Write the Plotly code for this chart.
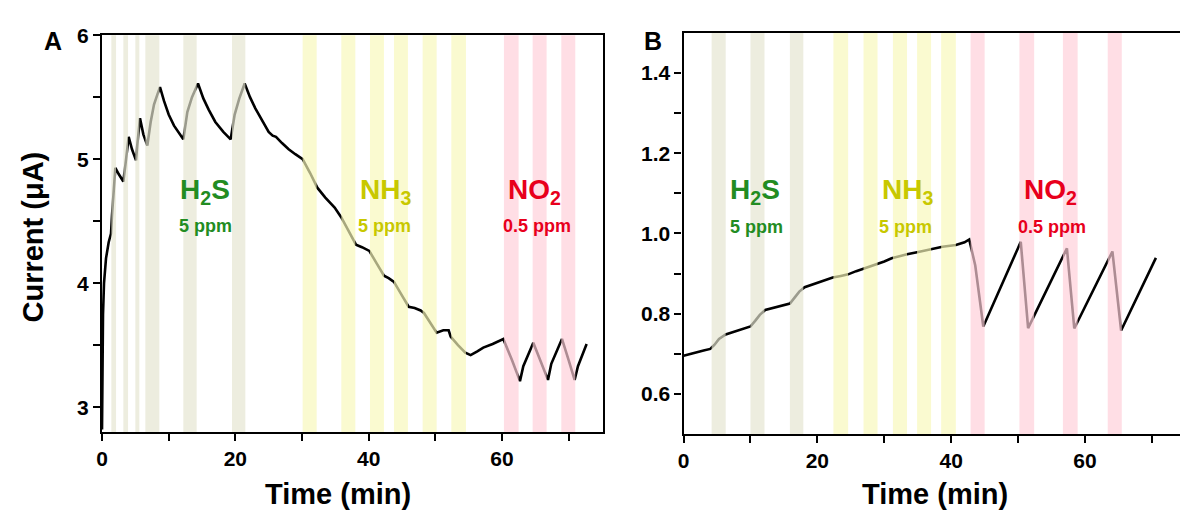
import plotly.graph_objects as go

W, H = 1180, 515

# ---- Panel A: current response of the sensor (µA) vs time (min) ----
time_a = [0, 0.05, 0.15, 0.3, 0.6, 1.0, 1.35, 1.5, 2.0, 2.5, 3.2, 3.5, 4.0, 4.5, 5.1, 5.3,
          5.7, 6.2, 6.8, 7.3, 7.8, 8.3, 8.7, 9.3, 10.0, 10.8, 11.5, 12.2, 12.8, 13.5, 14.4,
          15.2, 16.0, 17.0, 18.2, 19.3, 19.9, 20.6, 21.4, 22.2, 23.0, 24.0, 25.0, 25.6,
          26.1, 27.0, 28.0, 29.0, 30.1, 31.2, 32.3, 33.5, 34.9, 35.9, 36.6, 37.1, 37.8,
          38.1, 39.0, 40.1, 41.2, 42.3, 43.0, 43.8, 44.9, 46.0, 46.9, 47.8, 48.3, 49.3,
          50.2, 51.2, 52.0, 52.3, 53.4, 54.5, 55.3, 56.3, 57.2, 58.6, 60.2, 61.5, 62.7,
          63.2, 64.7, 65.8, 66.9, 67.4, 69.0, 70.0, 70.9, 71.4, 72.7]
current_a = [2.82, 3.30, 3.75, 4.00, 4.20, 4.33, 4.40, 4.55, 4.93, 4.88, 4.82, 4.95, 5.18,
             5.08, 4.99, 5.12, 5.33, 5.20, 5.11, 5.30, 5.44, 5.52, 5.58, 5.47, 5.36, 5.27,
             5.21, 5.16, 5.38, 5.50, 5.61, 5.49, 5.40, 5.30, 5.22, 5.16, 5.36, 5.49, 5.61,
             5.50, 5.41, 5.31, 5.22, 5.19, 5.18, 5.13, 5.08, 5.04, 5.00, 4.89, 4.77, 4.69,
             4.61, 4.53, 4.46, 4.40, 4.34, 4.31, 4.29, 4.26, 4.16, 4.06, 4.04, 4.01, 3.91,
             3.81, 3.80, 3.78, 3.76, 3.68, 3.60, 3.62, 3.62, 3.57, 3.50, 3.44, 3.42, 3.45,
             3.48, 3.51, 3.55, 3.38, 3.21, 3.33, 3.52, 3.37, 3.22, 3.35, 3.55, 3.38, 3.22,
             3.33, 3.51]

# gas exposure windows (start, end) in minutes
h2s_a = [(1.4, 2.1), (3.2, 3.9), (5.0, 5.6), (6.5, 8.6), (12.2, 14.2), (19.5, 21.5)]
nh3_a = [(30.1, 32.2), (35.9, 38.0), (40.2, 42.3), (43.8, 45.9), (48.1, 50.2), (52.4, 54.6)]
no2_a = [(60.3, 62.5), (64.6, 66.7), (68.9, 71.0)]

# ---- Panel B ----
time_b = [0, 1, 2, 3, 4.0, 4.6, 5.3, 6.3, 7.5, 8.8, 10.0, 10.7, 11.4, 12.2, 13.5, 14.7,
          15.9, 16.6, 17.3, 18.1, 19.5, 21.0, 22.3, 23.5, 24.6, 25.8, 26.9, 28.0, 29.0,
          30.0, 31.1, 32.3, 33.4, 34.9, 36.0, 37.0, 38.7, 40.7, 42.0, 42.7, 43.6, 44.8,
          50.4, 51.0, 51.5, 57.3, 57.9, 58.4, 64.1, 64.8, 65.4, 70.6]
current_b = [0.695, 0.700, 0.704, 0.708, 0.712, 0.722, 0.737, 0.748, 0.754, 0.761, 0.768,
             0.782, 0.797, 0.809, 0.814, 0.820, 0.825, 0.840, 0.855, 0.866, 0.874, 0.882,
             0.890, 0.894, 0.898, 0.906, 0.912, 0.918, 0.923, 0.930, 0.938, 0.944, 0.948,
             0.953, 0.957, 0.960, 0.967, 0.971, 0.978, 0.985, 0.920, 0.768, 0.979, 0.862,
             0.764, 0.963, 0.860, 0.763, 0.955, 0.850, 0.758, 0.939]

h2s_b = [(4.2, 6.3), (10.0, 12.1), (15.9, 17.9)]
nh3_b = [(22.4, 24.6), (26.9, 29.0), (31.3, 33.4), (34.9, 37.0), (38.5, 40.7)]
no2_b = [(42.9, 45.0), (50.2, 52.4), (56.7, 58.9), (63.4, 65.5)]

# labelled ticks and unlabelled minor ticks
xticks_a = [0, 20, 40, 60]
xminor_a = [10, 30, 50, 70]
yticks_a = [3, 4, 5, 6]
yminor_a = [3.5, 4.5, 5.5]
xticks_b = [0, 20, 40, 60]
xminor_b = [10, 30, 50, 70]
yticks_b = [0.6, 0.8, 1.0, 1.2, 1.4]
ytext_b = ["0.6", "0.8", "1.0", "1.2", "1.4"]
yminor_b = [0.7, 0.9, 1.1, 1.3]

FONT = "Liberation Sans, Arial, sans-serif"
GREEN = "rgb(34,140,34)"
YELLOW = "rgb(200,200,0)"
RED = "rgb(232,0,28)"
BAND = {"h2s": "rgb(228,228,208)", "nh3": "rgb(247,247,185)", "no2": "rgb(255,207,217)"}
BAND_OPACITY = 0.68


def px_x(p):
    return p / W


def px_y(p):
    return 1 - p / H


fig = go.Figure()
fig.add_trace(go.Scatter(x=time_a, y=current_a, mode="lines",
                         line=dict(color="black", width=2.6), xaxis="x", yaxis="y",
                         showlegend=False))
fig.add_trace(go.Scatter(x=time_b, y=current_b, mode="lines",
                         line=dict(color="black", width=2.6), xaxis="x2", yaxis="y2",
                         showlegend=False))

shapes = []
for xr, yr, groups in [("x", "y domain", [("h2s", h2s_a), ("nh3", nh3_a), ("no2", no2_a)]),
                       ("x2", "y2 domain", [("h2s", h2s_b), ("nh3", nh3_b), ("no2", no2_b)])]:
    for gas, spans in groups:
        for s, e in spans:
            shapes.append(dict(type="rect", xref=xr, yref=yr, x0=s, x1=e, y0=0, y1=1,
                               fillcolor=BAND[gas], opacity=BAND_OPACITY,
                               line=dict(width=0), layer="above"))

tickfont = dict(family=FONT, size=21, color="black", weight="bold")
axis_common = dict(showgrid=False, zeroline=False, showline=True, linecolor="black",
                   linewidth=2.2, ticks="outside", ticklen=7, tickwidth=2,
                   tickcolor="black", tickfont=tickfont)


def minor(vals):
    return dict(tickvals=vals, ticks="outside", ticklen=7, tickwidth=2,
                tickcolor="black", showgrid=False)


ax_a_x = (96.5, 600)
ax_a_y = (23.7, 430)
ax_b_x = (681, 1180)
ax_b_y = (21.5, 432)

fig.update_layout(
    width=W, height=H, margin=dict(l=0, r=0, t=0, b=0),
    paper_bgcolor="white", plot_bgcolor="white",
    shapes=shapes,
    xaxis=dict(domain=[px_x(ax_a_x[0]), px_x(ax_a_x[1])], range=[0, (ax_a_x[1] - ax_a_x[0]) / 6.7],
               tickvals=xticks_a, minor=minor(xminor_a), mirror=True, anchor="y", **axis_common),
    yaxis=dict(domain=[px_y(ax_a_y[1]), px_y(ax_a_y[0])], range=[2.8, 6.0],
               tickvals=yticks_a, minor=minor(yminor_a), mirror=True, anchor="x", **axis_common),
    xaxis2=dict(domain=[px_x(ax_b_x[0]), px_x(ax_b_x[1])], range=[0, (ax_b_x[1] - ax_b_x[0]) / 6.725],
                tickvals=xticks_b, minor=minor(xminor_b), mirror=True, anchor="y2", **axis_common),
    yaxis2=dict(domain=[px_y(ax_b_y[1]), px_y(ax_b_y[0])], range=[0.5, 1.5],
                tickvals=yticks_b, ticktext=ytext_b, minor=minor(yminor_b), mirror=False,
                anchor="x2", **axis_common),
)


def label(x, y, text, size, color, angle=0):
    fig.add_annotation(x=px_x(x), y=px_y(y), xref="paper", yref="paper", text=text,
                       showarrow=False, textangle=angle, xanchor="center", yanchor="middle",
                       font=dict(family=FONT, size=size, color=color, weight="bold"))


# panel letters
label(47, 30, "A", 25, "black")
label(650, 30, "B", 25, "black")

# axis titles
label(27, 230, "Current (μA)", 29, "black", angle=-90)
label(334, 493, "Time (min)", 29, "black")
label(934, 493, "Time (min)", 29, "black")

# gas labels, panel A
label(200, 184, "H<sub>2</sub>S", 28, GREEN)
label(201, 219, "5 ppm", 18, GREEN)
label(381, 184, "NH<sub>3</sub>", 28, YELLOW)
label(380, 219, "5 ppm", 18, YELLOW)
label(531, 184, "NO<sub>2</sub>", 28, RED)
label(534, 219, "0.5 ppm", 18, RED)

# gas labels, panel B
label(753, 184, "H<sub>2</sub>S", 28, GREEN)
label(754, 220, "5 ppm", 18, GREEN)
label(906, 184, "NH<sub>3</sub>", 28, YELLOW)
label(904, 220, "5 ppm", 18, YELLOW)
label(1050, 184, "NO<sub>2</sub>", 28, RED)
label(1051, 220, "0.5 ppm", 18, RED)

fig.write_html("out.html", post_script="document.body.style.margin='0px';")
